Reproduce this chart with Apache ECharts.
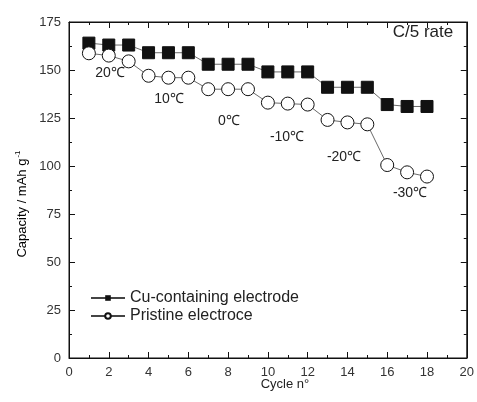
<!DOCTYPE html>
<html>
<head>
<meta charset="utf-8">
<script src="https://cdn.jsdelivr.net/npm/echarts@6/dist/echarts.min.js"></script>
<style>
  html, body { margin: 0; padding: 0; background: #fff; }
  #chart { width: 477px; height: 402px; }
</style>
</head>
<body>
<div id="chart"></div>
<script>
// Discharge capacity per cycle while the temperature steps down
const cycles = [1, 2, 3, 4, 5, 6, 7, 8, 9, 10, 11, 12, 13, 14, 15, 16, 17, 18];
const cuElectrode = [164, 163, 163, 159, 159, 159, 153, 153, 153, 149, 149, 149, 141, 141, 141, 132, 131, 131];
const pristineElectrode = [158.7, 157.5, 154.5, 147, 146, 146, 140, 140, 140, 133, 132.5, 132, 124, 122.7, 121.7, 100.5, 96.7, 94.5];
const seriesNames = ['Cu-containing electrode', 'Pristine electroce'];
const tempLabels = [
  { text: '20℃', x: 110, y: 73 },
  { text: '10℃', x: 169, y: 99 },
  { text: '0℃', x: 229, y: 121 },
  { text: '-10℃', x: 287, y: 137 },
  { text: '-20℃', x: 344, y: 157 },
  { text: '-30℃', x: 410, y: 193 }
];

const font = '"Liberation Sans", Arial, sans-serif';
const chart = echarts.init(document.getElementById('chart'));

function frameAxis(extra) {
  return Object.assign({
    show: true,
    axisLine: { show: true, onZero: false, lineStyle: { color: '#111', width: 1 } },
    axisTick: { show: true, inside: true, length: 6, lineStyle: { color: '#111' } },
    minorTick: { show: true, splitNumber: 2, length: 3, lineStyle: { color: '#111' } },
    splitLine: { show: false },
    minorSplitLine: { show: false }
  }, extra);
}

chart.setOption({
  backgroundColor: '#fff',
  animation: false,
  grid: { left: 69, right: 10, top: 22, bottom: 44, containLabel: false,
          show: true, borderColor: '#111', borderWidth: 1, backgroundColor: 'transparent' },
  xAxis: [
    frameAxis({
      type: 'value', min: 0, max: 20, interval: 2, position: 'bottom',
      axisLabel: { fontFamily: font, fontSize: 13, color: '#333', margin: 8 }
    }),
    frameAxis({
      type: 'value', min: 0, max: 20, interval: 2, position: 'top',
      axisLabel: { show: false }
    })
  ],
  yAxis: [
    frameAxis({
      type: 'value', min: 0, max: 175, interval: 25, position: 'left',
      axisLabel: { fontFamily: font, fontSize: 13, color: '#333', margin: 8 }
    }),
    frameAxis({
      type: 'value', min: 0, max: 175, interval: 25, position: 'right',
      axisLabel: { show: false }
    })
  ],
  legend: {
    orient: 'vertical', left: 85, top: 285, itemGap: 2,
    itemWidth: 34, itemHeight: 7,
    textStyle: { fontFamily: font, fontSize: 16, color: '#222' },
    data: seriesNames
  },
  series: [
    {
      name: seriesNames[0], type: 'line',
      data: cycles.map((c, i) => [c, cuElectrode[i]]),
      symbol: 'rect', symbolSize: 12,
      itemStyle: { color: '#111', borderColor: '#111' },
      lineStyle: { color: '#444', width: 0.8 }
    },
    {
      name: seriesNames[1], type: 'line',
      data: cycles.map((c, i) => [c, pristineElectrode[i]]),
      symbol: 'circle', symbolSize: 13,
      itemStyle: { color: '#fff', borderColor: '#111', borderWidth: 1 },
      lineStyle: { color: '#444', width: 0.8 }
    },
    {
      // empty series so the top and right frame axes are laid out too
      name: 'frame', type: 'line', xAxisIndex: 1, yAxisIndex: 1,
      data: [], silent: true, showSymbol: false
    }
  ],
  graphic: tempLabels.map(l => ({
    type: 'text', x: l.x, y: l.y,
    style: { text: l.text, fontFamily: font, fontSize: 14, fill: '#222', align: 'center', verticalAlign: 'middle' }
  })).concat([
    {
      type: 'text', x: 423, y: 32,
      style: { text: 'C/5 rate', fontFamily: font, fontSize: 17, fill: '#222', align: 'center', verticalAlign: 'middle' }
    },
    {
      type: 'text', x: 285, y: 384,
      style: { text: 'Cycle n°', fontFamily: font, fontSize: 13, fill: '#222', align: 'center', verticalAlign: 'middle' }
    },
    {
      type: 'text', x: 22, y: 204, rotation: Math.PI / 2,
      style: {
        text: '{a|Capacity / mAh g}{s|-1}',
        align: 'center', verticalAlign: 'middle',
        rich: {
          a: { fontFamily: font, fontSize: 13, color: '#222' },
          s: { fontFamily: font, fontSize: 8, color: '#222', padding: [0, 0, 9, 1] }
        }
      }
    }
  ])
});
</script>
</body>
</html>
